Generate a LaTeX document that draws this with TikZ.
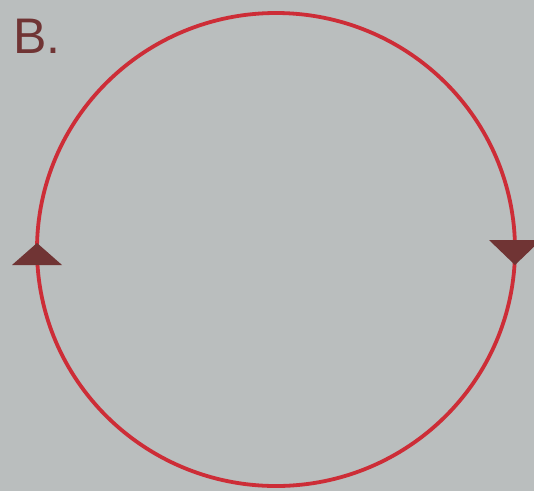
\documentclass[tikz,border=0pt]{standalone}
\usepackage{fontspec}
\setmainfont{Liberation Sans}
\definecolor{paper}{RGB}{186,190,190}
\definecolor{loopred}{RGB}{205,45,55}
\definecolor{tipbrown}{RGB}{112,52,52}

\begin{document}
\begin{tikzpicture}[
  x=1pt, y=-1pt,
  loop/.style={draw=loopred, line width=3.8pt},
  tip/.style={fill=tipbrown},
  lbl/.style={text=tipbrown, font=\fontsize{50}{52}\selectfont, inner sep=0pt, anchor=north west},
]
% background
\fill[paper] (0,0) rectangle (534,491);
\useasboundingbox (0,0) rectangle (534,491);

\coordinate (c) at (276,249.5);
\draw[loop] (c) ellipse [x radius=239, y radius=236.5];

% direction marks
\coordinate (lt) at (37,243);
\coordinate (rt) at (515,265);
\fill[tip] (lt) -- ++(-25,22) -- ++(50,0) -- cycle;
\fill[tip] (rt) -- ++(-26,-25) -- ++(52,0) -- cycle;

\node[lbl] (b) at (13,19) {B.};
\end{tikzpicture}
\end{document}
